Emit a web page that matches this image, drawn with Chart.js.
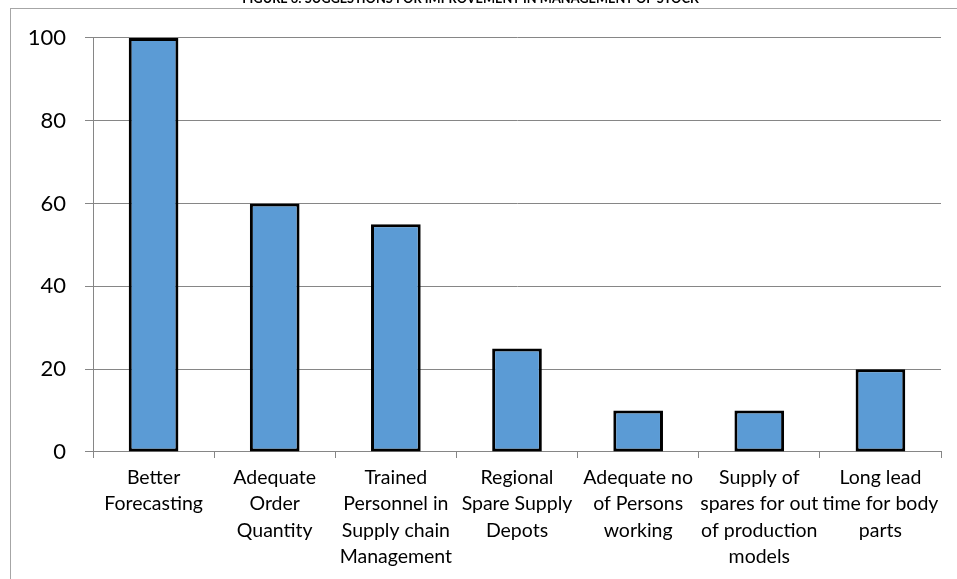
<!DOCTYPE html>
<html lang="en">
<head>
    <meta charset="UTF-8">
    <title>Suggestions for Improvement in Management of Stock</title>
    <script src="https://cdn.jsdelivr.net/npm/chart.js"></script>
    <style>
        html, body { margin: 0; padding: 0; background: #fff; overflow: hidden; }
        body { width: 957px; height: 579px; position: relative; }
        .frame { position: absolute; left: 10px; top: 8px; width: 980px; height: 620px; border: 1px solid #a6a6a6; }
        .wrap { position: absolute; left: 0; top: -12px; width: 957px; height: 591px; }
    </style>
</head>
<body>
    <div class="frame"></div>
    <div class="wrap">
        <canvas id="myChart"></canvas>
    </div>
    <script>
    // Categories (wrapped the way the axis shows them) and survey counts
    const categories = [
        ['Better', 'Forecasting'],
        ['Adequate', 'Order', 'Quantity'],
        ['Trained', 'Personnel in', 'Supply chain', 'Management'],
        ['Regional', 'Spare Supply', 'Depots'],
        ['Adequate no', 'of Persons', 'working'],
        ['Supply of', 'spares for out', 'of production', 'models'],
        ['Long lead', 'time for body', 'parts']
    ];
    const responses = [100, 60, 55, 25, 10, 10, 20];
    const yTicks = [0, 20, 40, 60, 80, 100];

    const titleText = 'FIGURE 6: SUGGESTIONS FOR IMPROVEMENT IN MANAGEMENT OF STOCK';
    const gridColor = '#868686';
    const fontFamily = 'Lato, "Open Sans", sans-serif';

    const ctx = document.getElementById('myChart').getContext('2d');
    const myChart = new Chart(ctx, {
        type: 'bar',
        data: {
            labels: categories,
            datasets: [{
                label: 'Responses',
                data: responses,
                backgroundColor: '#5B9BD5',
                borderColor: '#000000',
                borderWidth: 3,
                borderSkipped: false,
                categoryPercentage: 1.0,
                barPercentage: 0.41
            }]
        },
        options: {
            responsive: true,
            maintainAspectRatio: false,
            animation: false,
            layout: {
                padding: { left: 0, right: 16, top: 0, bottom: 0 }
            },
            scales: {
                y: {
                    min: 0,
                    max: 100,
                    afterBuildTicks: (scale) => {
                        scale.ticks = yTicks.map(v => ({ value: v }));
                    },
                    afterFit: (scale) => { scale.width = 93; },
                    border: { display: true, color: gridColor, width: 1 },
                    grid: { color: gridColor, lineWidth: 1, tickLength: 8, drawTicks: true },
                    ticks: {
                        color: '#000',
                        padding: 19,
                        font: { family: fontFamily, size: 22 }
                    }
                },
                x: {
                    afterFit: (scale) => { scale.height = 127; },
                    border: { display: true, color: gridColor, width: 1 },
                    grid: {
                        offset: true,
                        drawOnChartArea: false,
                        color: gridColor,
                        tickLength: 6
                    },
                    ticks: {
                        color: '#000',
                        padding: 6,
                        maxRotation: 0,
                        autoSkip: false,
                        font: { family: fontFamily, size: 19.5, lineHeight: 1.36 }
                    }
                }
            },
            plugins: {
                legend: { display: false },
                tooltip: { enabled: false },
                title: {
                    display: true,
                    text: titleText,
                    color: '#000',
                    font: { family: fontFamily, size: 12.8, weight: 'bold', lineHeight: 1.2 },
                    padding: { top: 3, bottom: 31.6 }
                }
            }
        }
    });
    </script>
</body>
</html>
